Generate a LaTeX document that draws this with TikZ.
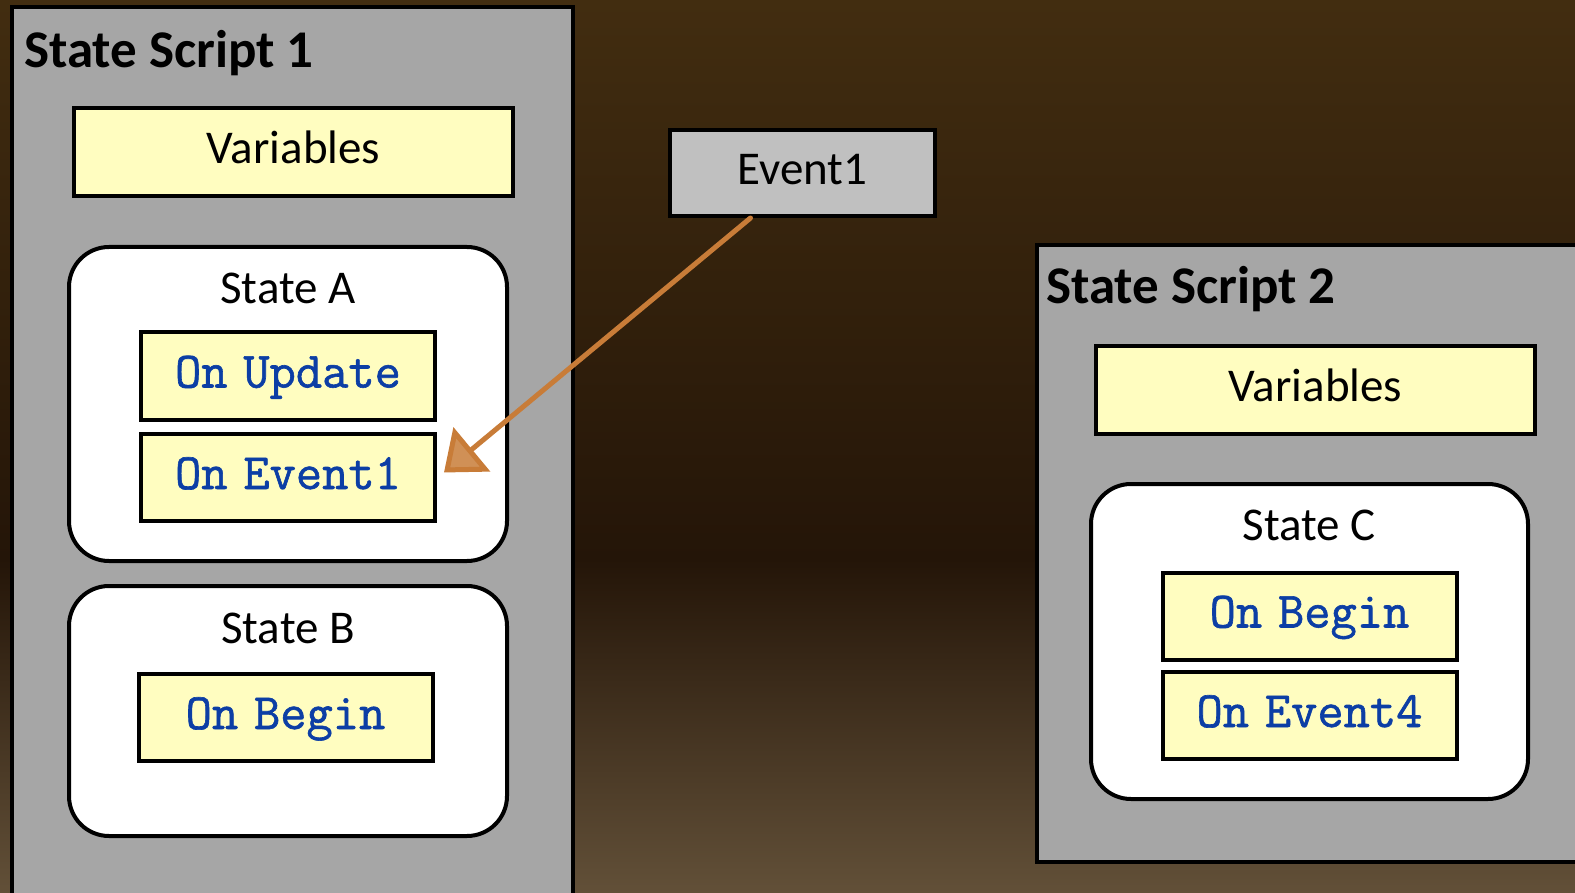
\documentclass[tikz,border=0pt]{standalone}
\usepackage{fontspec}
\setmainfont{Carlito}
\newfontfamily\handlerfont[FakeBold=1.2, WordSpace=0.6]{Latin Modern Mono}
\usetikzlibrary{arrows.meta}
\definecolor{boxgray}{RGB}{166,166,166}
\definecolor{eventgray}{RGB}{192,192,192}
\definecolor{handlerfill}{RGB}{255,253,192}
\definecolor{handlerblue}{RGB}{12,62,165}
\definecolor{arroworange}{RGB}{200,124,56}
\definecolor{bgtop}{RGB}{66,45,16}
\definecolor{bgmid}{RGB}{36,21,8}
\definecolor{bgbot}{RGB}{98,80,56}

\begin{document}
\begin{tikzpicture}[x=1pt,y=-1pt,
    every node/.style={text height=33pt, text depth=10pt},
    script/.style={draw=black, line width=4pt, fill=boxgray, inner sep=0pt},
    sctitle/.style={font=\bfseries\fontsize{53}{60}\selectfont, anchor=base west, inner sep=0pt},
    varbox/.style={draw=black, line width=4pt, fill=handlerfill, minimum width=439pt, minimum height=88pt,
        font=\fontsize{47}{56}\selectfont},
    state/.style={draw=black, line width=4pt, fill=white, rounded corners=40pt, minimum width=438pt, inner sep=0pt},
    statelabel/.style={font=\fontsize{47}{56}\selectfont},
    handler/.style={draw=black, line width=4pt, fill=handlerfill, minimum width=294pt, minimum height=87pt,
        font=\handlerfont\fontsize{51}{58}\selectfont, text=handlerblue},
    eventbox/.style={draw=black, line width=4pt, fill=eventgray, minimum width=265pt, minimum height=86pt,
        font=\fontsize{47}{56}\selectfont},
    sendto/.style={draw=arroworange, line width=5pt, line cap=round,
        -{Triangle[angle=76:46pt, fill=arroworange!85!white]}}]
    \clip (0,0) rectangle (1575,893);
    % backdrop
    \shade[top color=bgtop, bottom color=bgmid] (0,0) rectangle (1575,560);
    \shade[top color=bgmid, bottom color=bgbot] (0,559) rectangle (1575,893);

    % script 1
    \node[script, minimum width=561pt, minimum height=898pt] (ss1) at (292.5,456) {};
    \node[sctitle] (ss1title) at (24,68) {State Script 1};
    \node[varbox] (var1) at (293.5,152) {Variables};
    \node[state, minimum height=314pt] (sta) at (288,404) {};
    \node[statelabel] (stalabel) at (288,292) {State A};
    \node[state, minimum height=250pt] (stb) at (288,711) {};
    \node[statelabel] (stblabel) at (288,632) {State B};

    % script 2
    \node[script, minimum width=543pt, minimum height=617pt] (ss2) at (1308.5,553.5) {};
    \node[sctitle] (ss2title) at (1046,304) {State Script 2};
    \node[varbox] (var2) at (1315.5,390) {Variables};
    \node[state, minimum width=437pt, minimum height=315pt] (stc) at (1309.5,641.5) {};
    \node[statelabel] (stclabel) at (1309,529) {State C};

    \foreach \nm/\x/\y/\txt in {hupd/288/376/On Update, hev/288/477.5/On Event1,
        hbeg/285.5/717.5/On Begin, cbeg/1309.5/616/On Begin, cev/1309.5/715.5/On Event4}
        \node[handler] (\nm) at (\x,\y) {\txt};

    \node[eventbox] (ev) at (802.5,173) {Event1};

    \draw[sendto] ([xshift=-52pt]ev.south) -- ([xshift=7pt,yshift=5pt]hev.east);
\end{tikzpicture}
\end{document}
